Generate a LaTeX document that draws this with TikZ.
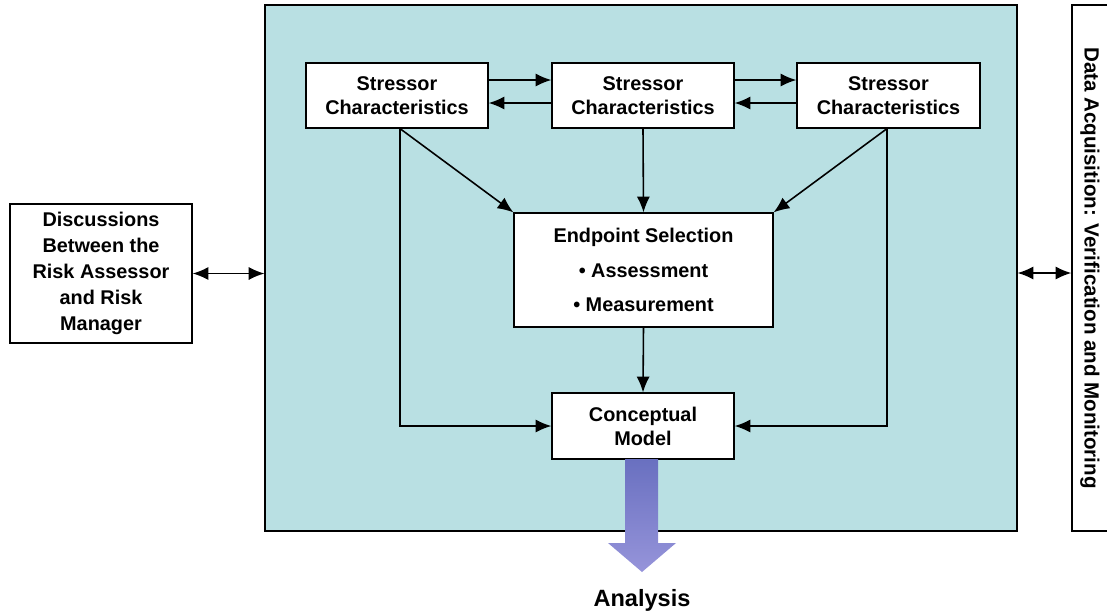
\documentclass[tikz,border=0pt]{standalone}
\usepackage{fontspec}
\setmainfont{Liberation Sans}
\usetikzlibrary{arrows.meta}
\definecolor{panelteal}{RGB}{185,224,227}
\definecolor{shafttop}{RGB}{105,112,192}
\definecolor{shaftlow}{RGB}{150,148,218}

\begin{document}
\begin{tikzpicture}[x=0.02cm,y=-0.02cm,
    box/.style={draw,line width=0.7pt,fill=white,align=center,inner sep=0pt,
      font=\bfseries\fontsize{11.3}{13.6}\selectfont},
    link/.style={line width=0.9pt,-{Latex[length=9pt,width=7.5pt]}},
    both/.style={line width=0.9pt,{Latex[length=9pt,width=7.5pt]}-{Latex[length=9pt,width=7.5pt]}}]
  \useasboundingbox (0,0) rectangle (1107,613);
  \clip (0,0) rectangle (1107,613);
  \node[draw,line width=0.7pt,fill=panelteal,minimum width=15.04cm,minimum height=10.52cm] (panel) at (641,268) {};
  \node[box,minimum width=3.64cm,minimum height=1.3cm] (sc1) at (397,95.5) {Stressor\\Characteristics};
  \node[box,minimum width=3.64cm,minimum height=1.3cm] (sc2) at (643,95.5) {Stressor\\Characteristics};
  \node[box,minimum width=3.66cm,minimum height=1.3cm] (sc3) at (888.5,95.5) {Stressor\\Characteristics};
  \node[box,minimum width=5.18cm,minimum height=2.28cm,font=\bfseries\fontsize{11.3}{19.5}\selectfont] (endp) at (643.5,270)
    {\rule{0pt}{6pt}Endpoint Selection\\• Assessment\\• Measurement};
  \node[box,minimum width=3.64cm,minimum height=1.32cm] (concept) at (643,426) {Conceptual\\Model};
  \node[box,minimum width=3.64cm,minimum height=2.78cm,font=\bfseries\fontsize{11.3}{14.8}\selectfont] (disc) at (101,273.5)
    {\rule{0pt}{8pt}Discussions\\Between the\\Risk Assessor\\and Risk\\Manager};
  \node[box,rotate=-90,minimum width=10.52cm,minimum height=0.72cm,font=\bfseries\fontsize{11.7}{14}\selectfont] (acq) at (1090,268)
    {Data Acquisition: Verification and Monitoring};
  \draw[link] ([yshift=3.1mm]sc1.east) -- ([yshift=3.1mm]sc2.west);
  \draw[link] ([yshift=-1.5mm]sc2.west) -- ([yshift=-1.5mm]sc1.east);
  \draw[link] ([yshift=3.1mm]sc2.east) -- ([yshift=3.1mm]sc3.west);
  \draw[link] ([yshift=-1.5mm]sc3.west) -- ([yshift=-1.5mm]sc2.east);
  \draw[link] ([xshift=0.6mm]sc1.south) -- (endp.north west);
  \draw[link] ([xshift=0.6mm]sc1.south) |- (concept.west);
  \draw[link] (sc2.south) -- (endp.north);
  \draw[link] ([xshift=-0.3mm]sc3.south) -- (endp.north east);
  \draw[link] ([xshift=-0.3mm]sc3.south) |- (concept.east);
  \draw[link] (endp.south) -- (concept.north);
  \draw[both] (disc.east) -- (disc.east -| panel.west);
  \draw[both] ([yshift=-1mm]panel.east) -- ([yshift=-1mm]panel.east -| acq.south);
  \shade[top color=shafttop,bottom color=shaftlow] (625,459) -- (658,459) -- (658,543) -- (676,543)
    -- (642,572) -- (608,543) -- (625,543) -- cycle;
  \node[font=\bfseries\fontsize{13.4}{16}\selectfont] (analysis) at (642,600) {Analysis};
\end{tikzpicture}
\end{document}
